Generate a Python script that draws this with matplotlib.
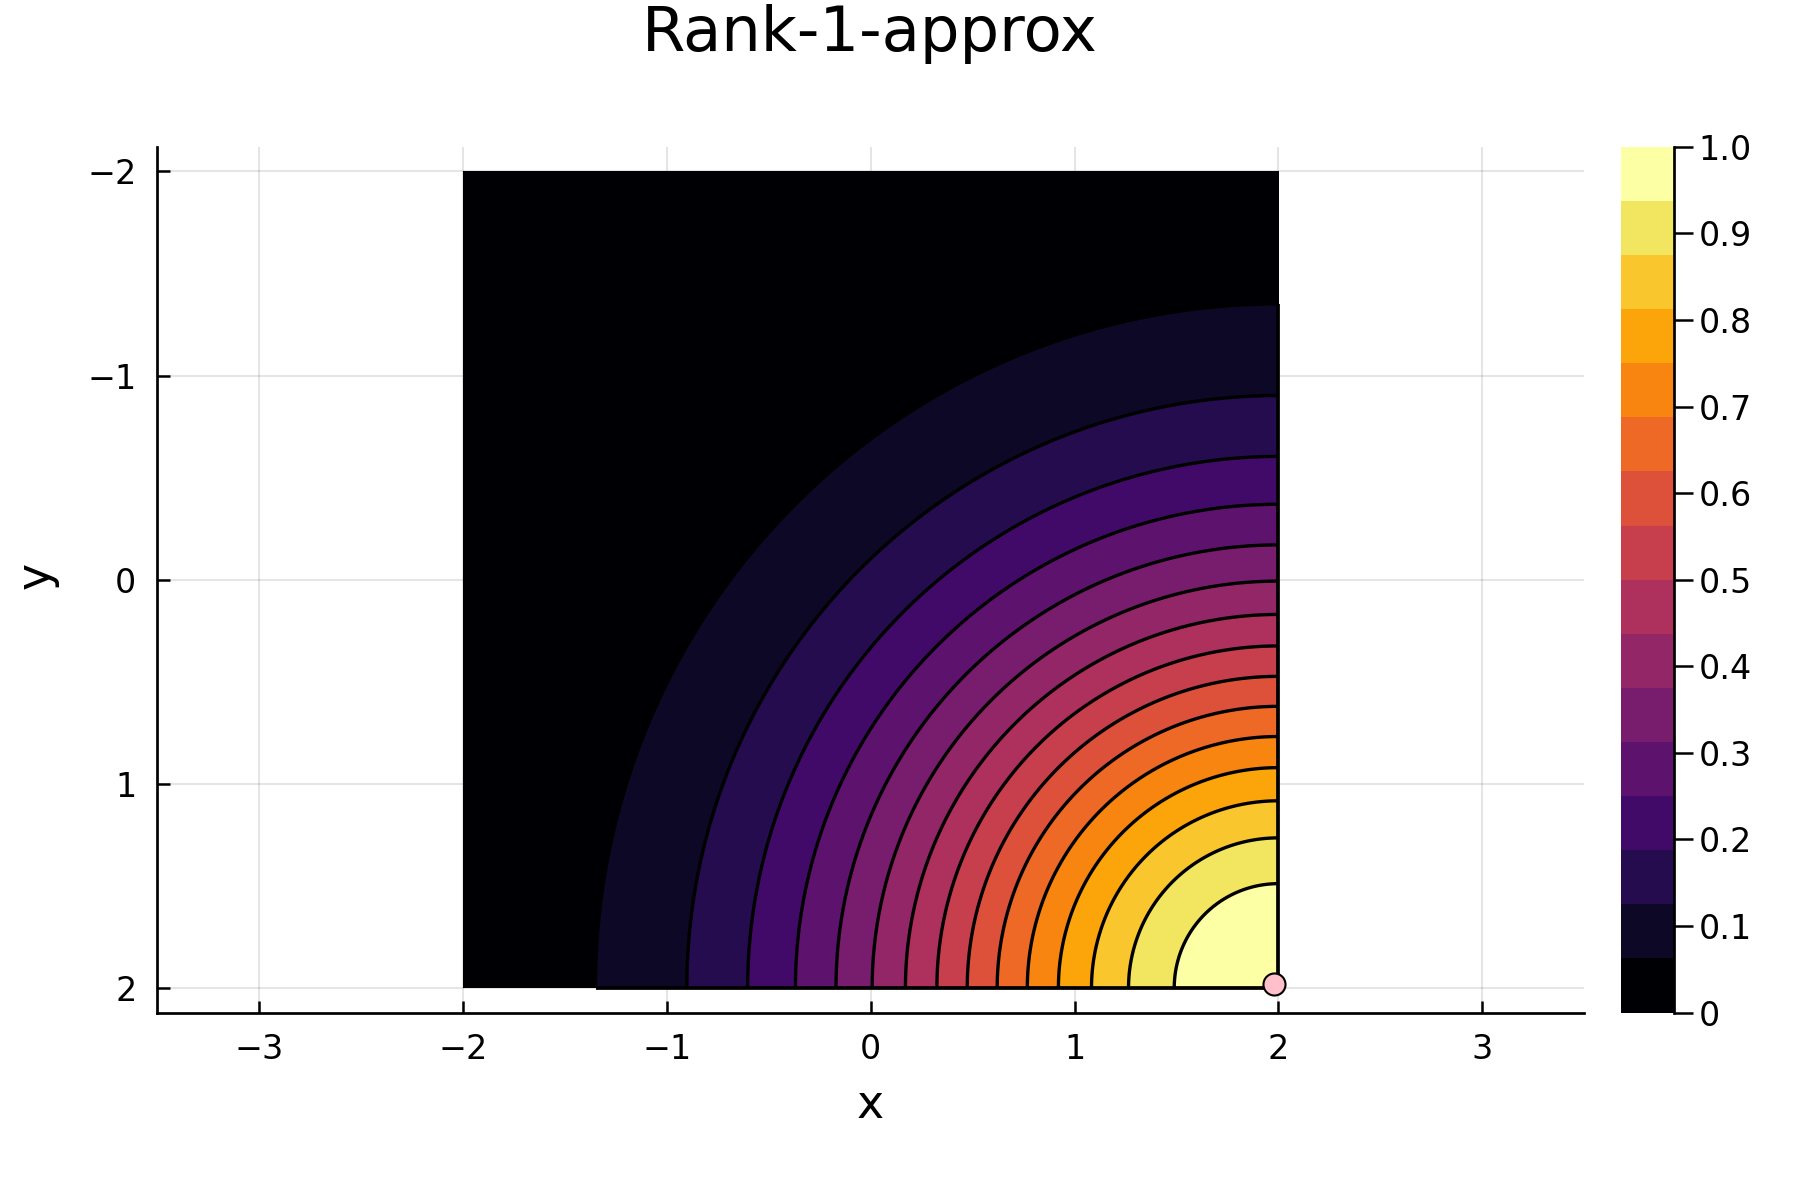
import numpy as np
import matplotlib
matplotlib.use("Agg")
import matplotlib.pyplot as plt
from matplotlib.colors import ListedColormap, BoundaryNorm

# ---- data ----
title = "Rank-1-approx"
x_grid = np.linspace(-2.0, 2.0, 241)
y_grid = np.linspace(-2.0, 2.0, 241)
center = (2.0, 2.0)
width = 4.05
# rank-1 approximation: outer product of two vectors
u = np.exp(-(x_grid - center[0]) ** 2 / width)
v = np.exp(-(y_grid - center[1]) ** 2 / width)
Z = np.outer(v, u)
levels = np.linspace(0.0, 1.0, 17)
cbar_ticks = [0, 0.1, 0.2, 0.3, 0.4, 0.5, 0.6, 0.7, 0.8, 0.9, 1.0]
cbar_labels = ["0", "0.1", "0.2", "0.3", "0.4", "0.5", "0.6", "0.7", "0.8", "0.9", "1.0"]
x_ticks = [-3, -2, -1, 0, 1, 2, 3]
y_ticks = [-2, -1, 0, 1, 2]
point_x = [1.98]
point_y = [1.98]

plt.rcParams['font.family'] = ['DejaVu Sans']

W, H = 1800, 1200
fig = plt.figure(figsize=(6, 4), dpi=300)

def fx(px): return px / W
def fy(py): return 1 - py / H

left, right, top, bottom = 157.3, 1584.2, 146.9, 1012.5
ax = fig.add_axes([fx(left), fy(bottom), fx(right) - fx(left), (bottom - top) / H])

ncol = len(levels) - 1
cmap = ListedColormap(plt.get_cmap('inferno')(np.linspace(0, 1, ncol)))
norm = BoundaryNorm(levels, ncol)

ax.contourf(x_grid, y_grid, Z, levels=levels, cmap=cmap, norm=norm, zorder=2)
ax.contour(x_grid, y_grid, Z, levels=levels[1:-1], colors='black', linewidths=0.8, zorder=3)

# boundary line segments where contour region exceeds lowest level
lvl = levels[1]
ymin_edge = y_grid[np.argmax(Z[:, -1] >= lvl)]
xmin_edge = x_grid[np.argmax(Z[-1, :] >= lvl)]
ax.plot([x_grid[-1], x_grid[-1]], [ymin_edge, y_grid[-1]], color='black', lw=0.9, zorder=3, solid_capstyle='butt')
ax.plot([xmin_edge, x_grid[-1]], [y_grid[-1], y_grid[-1]], color='black', lw=0.9, zorder=3, solid_capstyle='butt')

ax.scatter(point_x, point_y, s=28, c='pink', edgecolors='black', linewidths=0.5, zorder=5, clip_on=False)

ax.set_xlim(-3.5, 3.5)
ax.set_ylim(2.12, -2.12)
ax.set_xticks(x_ticks)
ax.set_yticks(y_ticks)
ax.set_xticklabels([("\u2212%d" % -t) if t < 0 else str(t) for t in x_ticks])
ax.set_yticklabels([("\u2212%d" % -t) if t < 0 else str(t) for t in y_ticks])
ax.tick_params(direction='in', length=3, width=0.6, labelsize=8, pad=5)
ax.grid(True, color='black', alpha=0.1, linewidth=0.5, zorder=0)
ax.set_axisbelow(True)
for s in ['top', 'right']:
    ax.spines[s].set_visible(False)
for s in ['left', 'bottom']:
    ax.spines[s].set_linewidth(0.65)

# colorbar
cax = fig.add_axes([fx(1620.9), fy(bottom), fx(1673.7) - fx(1620.9), (bottom - top) / H])
sm = matplotlib.cm.ScalarMappable(norm=norm, cmap=cmap)
cb = fig.colorbar(sm, cax=cax, ticks=cbar_ticks)
cb.set_ticklabels(cbar_labels)
cb.minorticks_off()
cb.outline.set_visible(False)
cax.tick_params(direction='out', length=4.5, width=0.6, labelsize=8, pad=1.5)
cax.tick_params(which='minor', length=0)
cax.plot([1, 1], [0, 1], transform=cax.transAxes, color='black', lw=0.65, clip_on=False)

fig.text(fx(870), fy(34), title, ha='center', va='center', fontsize=15)
fig.text(fx(870), fy(1106), "x", ha='center', va='center', fontsize=11)
fig.text(fx(36), fy(575), "y", ha='center', va='center', fontsize=11, rotation=90)

fig.savefig("out.png", dpi=300)
